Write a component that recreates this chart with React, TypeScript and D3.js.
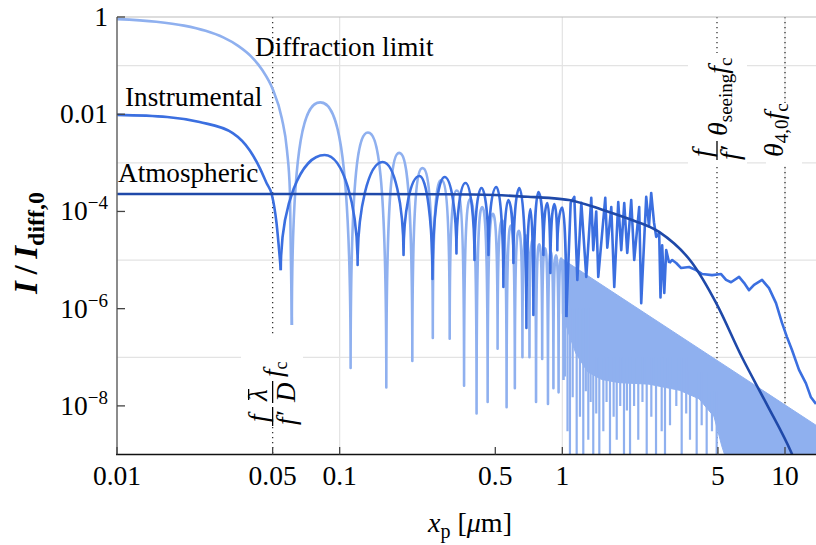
import React from "react";
import * as d3 from "d3";

// ---- chart data ----
const xTickValues = [0.01, 0.05, 0.1, 0.5, 1, 5, 10];
const xTickText = ["0.01", "0.05", "0.1", "0.5", "1", "5", "10"];
const yTickValues = [1, 1e-2, 1e-4, 1e-6, 1e-8];
const yTickBase = ["1", "0.01", "10", "10", "10"];
const yTickSup = ["", "", "\u22124", "\u22126", "\u22128"];
const xGridValues = [0.1, 1, 10];
const yGridValues = [1e-1, 1e-3, 1e-5, 1e-7];
const markerValues = [0.05, 4.95, 10];

// diffraction limit: central lobe, then alternating dips / peaks, then dense band
const diffCore: [number, number][] = [
  [0.01, 0.905], [0.015, 0.8], [0.02, 0.665], [0.025, 0.52], [0.03, 0.38], [0.035, 0.255],
  [0.04, 0.155], [0.045, 0.08], [0.05, 0.033], [0.055, 0.0082], [0.058, 0.0018],
  [0.0598, 2.5e-4], [0.061, 4.6e-7],
];
const diffDips: [number, number][] = [
  [0.061, 4.6e-7], [0.112, 6e-8], [0.162, 2.4e-8], [0.212, 8.4e-8], [0.262, 2.5e-7],
  [0.312, 2.4e-7], [0.362, 2.6e-8], [0.412, 7e-9], [0.462, 1.2e-8], [0.512, 1.5e-7],
  [0.562, 9.4e-9], [0.612, 2.3e-8], [0.662, 1e-7], [0.712, 1e-7], [0.762, 1.2e-8],
  [0.812, 9.2e-8], [0.862, 1.1e-8], [0.912, 2.3e-8], [0.962, 1.9e-8], [1.012, 3.4e-8],
];
const diffPeaks: [number, number][] = [
  [0.0818, 0.0175], [0.134, 0.0042], [0.185, 0.0016], [0.2355, 7.8e-4], [0.286, 4.4e-4],
  [0.336, 2.7e-4], [0.386, 1.8e-4], [0.4365, 1.23e-4], [0.487, 8.9e-5], [0.537, 6.6e-5],
  [0.587, 5.1e-5], [0.637, 4.0e-5], [0.687, 3.2e-5], [0.737, 2.6e-5], [0.787, 2.1e-5],
  [0.837, 1.75e-5], [0.887, 1.47e-5], [0.937, 1.25e-5], [0.987, 1.07e-5],
];
const diffBandTop: [number, number][] = [[1.0, 1.05e-5], [13.78, 4.0e-9]];
const diffBandBottom: [number, number][] = [
  [1.0, 8e-7], [1.07, 3e-7], [1.15, 1.2e-7], [1.3, 5e-8], [1.5, 3.5e-8], [1.8, 3e-8],
  [2.45, 2.8e-8], [3.35, 2.1e-8], [4.11, 1.4e-8], [4.8, 6e-9], [5.2, 1.5e-9], [5.35, 1e-9],
  [13.78, 1e-9],
];
// thin light spikes below the band: [x, from, to]
const diffSpikes: [number, number, number][] = [
  [1.028, 1e-6, 4e-8], [1.055, 1e-6, 3e-9], [1.082, 1e-6, 1e-9], [1.113, 1e-6, 1.5e-8],
  [1.16, 1e-6, 1e-9], [1.2, 1e-6, 6e-9], [1.242, 1e-6, 1e-9], [1.275, 1e-6, 2e-8],
  [1.308, 1e-6, 2e-9], [1.34, 1e-6, 1.2e-8], [1.377, 1e-6, 1e-9], [1.42, 1e-7, 7e-9],
  [1.466, 1e-7, 1e-9], [1.528, 1e-7, 3e-9], [1.58, 1e-7, 1.2e-8], [1.637, 1e-7, 1e-9],
  [1.7, 1e-7, 6e-9], [1.755, 1e-7, 2e-9], [1.82, 1e-7, 1e-8], [1.892, 1e-7, 1e-9],
  [1.95, 1e-7, 8e-9], [2.014, 1e-7, 1e-9], [2.1, 1e-7, 1e-8], [2.193, 1e-7, 2e-9],
  [2.29, 1e-7, 1.2e-8], [2.393, 1e-7, 1e-9], [2.51, 1e-7, 6e-9], [2.635, 1e-7, 1e-9],
  [2.794, 1e-7, 3e-9], [2.891, 1e-7, 1e-9], [3.045, 1e-7, 4e-9], [3.25, 1e-7, 1e-8],
  [3.436, 1e-7, 1e-9], [3.6, 1e-7, 7e-9], [3.744, 5e-8, 2e-9], [4.012, 5e-8, 1e-9],
  [4.225, 5e-8, 4e-9], [4.449, 5e-8, 1e-9], [4.7, 2e-8, 3e-9], [4.934, 2e-8, 1e-9],
];

// instrumental
const instCore: [number, number][] = [
  [0.01, 0.0097], [0.0168, 0.0088], [0.0235, 0.0069], [0.0331, 0.0041], [0.0395, 0.0018],
  [0.0438, 7.8e-4], [0.047, 3.8e-4], [0.0496, 2.2e-4], [0.052, 6e-5], [0.0544, 6.2e-6],
];
const instDips: [number, number][] = [
  [0.0544, 6.2e-6], [0.1204, 7.9e-6], [0.1936, 1.27e-5], [0.2612, 4.1e-6], [0.3346, 1.37e-5],
  [0.4031, 1.0e-5], [0.4658, 1.27e-5], [0.5437, 2.8e-6], [0.603, 8.7e-6], [0.6898, 4.0e-7],
  [0.7413, 7.4e-7], [0.8219, 1.27e-5], [0.8835, 5.4e-6], [0.9497, 1.6e-5], [1.042, 6.7e-7],
];
const instPeaks: [number, number][] = [
  [0.0856, 1.45e-3], [0.156, 1.04e-3], [0.2284, 5.35e-4], [0.2957, 5.1e-4], [0.3673, 3.84e-4],
  [0.4333, 3.03e-4], [0.5058, 3.18e-4], [0.5724, 1.72e-4], [0.6414, 3.03e-4], [0.7188, 1.12e-4],
  [0.7805, 2.5e-4], [0.8565, 1.49e-4], [0.9207, 1.42e-4], [1.0, 1.2e-4],
];
const instNoise: [number, number][] = [
  [1.042, 6.7e-7], [1.09, 1.5e-4], [1.132, 2.0e-4], [1.168, 3.9e-6], [1.217, 1.5e-4],
  [1.281, 4.5e-6], [1.349, 1.9e-4], [1.377, 1.6e-5], [1.42, 1.0e-4], [1.45, 4.5e-6],
  [1.559, 1.9e-4], [1.592, 1.8e-5], [1.659, 1.23e-4], [1.711, 2.8e-6], [1.783, 1.56e-4],
  [1.839, 1.6e-5], [1.897, 1.49e-4], [1.957, 1.4e-5], [2.039, 1.72e-4], [2.103, 1.0e-5],
  [2.214, 1.23e-4], [2.261, 1.3e-6], [2.381, 2.0e-4], [2.45, 5e-5], [2.507, 2.4e-4],
  [2.58, 6e-5], [2.64, 3.0e-5], [2.723, 3.6e-5], [2.76, 1.7e-6], [2.808, 2e-5],
  [2.87, 2.1e-6], [2.928, 1.6e-5], [3.019, 8.7e-6],
];
const instTail: [number, number][] = [
  [3.019, 8.7e-6], [3.115, 1.0e-5], [3.246, 8.7e-6], [3.417, 6.85e-6], [3.711, 7.2e-6],
  [3.99, 6.2e-6], [4.244, 5.15e-6], [4.705, 4.9e-6], [5.164, 5.15e-6], [5.437, 3.9e-6],
  [5.724, 3.5e-6], [6.219, 4.5e-6], [6.547, 3.4e-6], [6.896, 2.4e-6], [7.261, 3.1e-6],
  [7.886, 3.9e-6], [8.477, 2.65e-6], [9.114, 1.3e-6], [9.694, 5.1e-7], [10.21, 2.6e-7],
  [10.75, 1.41e-7], [11.56, 5.5e-8], [12.42, 2.9e-8], [13.08, 1.5e-8], [13.78, 1.1e-8],
];

// atmospheric
const atmo: [number, number][] = [
  [0.01, 2.28e-4], [0.1, 2.28e-4], [0.3, 2.25e-4], [0.5, 2.18e-4], [0.7, 2.0e-4],
  [0.87, 1.9e-4], [1.07, 1.72e-4], [1.5, 1.1e-4], [1.94, 7.3e-5], [2.72, 3.8e-5],
  [3.83, 8.7e-6], [4.91, 1.3e-6], [6.41, 1.0e-7], [8.22, 1.15e-8], [10.7, 1.07e-9],
  [12.0, 3e-10],
];

const cLight = "#8fb0ef";
const cInst = "#3b6fe0";
const cAtmo = "#1f49a9";
const font = "Liberation Serif";

const x = d3.scaleLog().domain([0.01, 13.78]).range([117, 816]);
const y = d3.scaleLog().domain([1e-9, 1]).range([454.5, 17]);

const smooth = d3.line<[number, number]>().x(d => x(d[0])).y(d => y(d[1])).curve(d3.curveMonotoneX);
const straight = d3.line<[number, number]>().x(d => x(d[0])).y(d => y(d[1]));

// lobes: vertical tangent at the dips, flat tangent at the peaks
function lobes(dips: [number, number][], peaks: [number, number][], kd: number, kp: number) {
  const pts: { px: number; py: number; dip: boolean }[] = [];
  dips.forEach((d, i) => {
    pts.push({ px: x(d[0]), py: y(d[1]), dip: true });
    if (i < peaks.length) pts.push({ px: x(peaks[i][0]), py: y(peaks[i][1]), dip: false });
  });
  const p = d3.path();
  p.moveTo(pts[0].px, pts[0].py);
  for (let i = 1; i < pts.length; i++) {
    const a = pts[i - 1];
    const b = pts[i];
    if (a.dip) p.bezierCurveTo(a.px, a.py + kd * (b.py - a.py), b.px - kp * (b.px - a.px), b.py, b.px, b.py);
    else p.bezierCurveTo(a.px + kp * (b.px - a.px), a.py, b.px, b.py + kd * (a.py - b.py), b.px, b.py);
  }
  return p.toString();
}

export default function App() {
  const bandPath = straight(diffBandTop.concat(diffBandBottom.slice().reverse())) + "Z";
  const sw = 2.6;
  return (
    <svg width={816} height={545} style={{ position: "absolute", left: 0, top: 0, background: "#fff", fontFamily: font }}>
      <defs>
        <clipPath id="plotClip">
          <rect x={117} y={17} width={699} height={437.5} />
        </clipPath>
      </defs>

      {/* grid */}
      {xGridValues.map(v => (
        <line key={"gx" + v} x1={x(v)} x2={x(v)} y1={17} y2={454.5} stroke="#e3e3e3" strokeWidth={1.2} />
      ))}
      {yGridValues.map(v => (
        <line key={"gy" + v} x1={117} x2={816} y1={y(v)} y2={y(v)} stroke="#e3e3e3" strokeWidth={1.2} />
      ))}
      {markerValues.map(v => (
        <line key={"m" + v} x1={x(v)} x2={x(v)} y1={17} y2={454.5} stroke="#333" strokeWidth={1.3} strokeDasharray="1.3,3.7" />
      ))}

      <g clipPath="url(#plotClip)" fill="none" strokeLinejoin="round">
        <path d={bandPath} fill={cLight} stroke={cLight} strokeWidth={1} />
        {diffSpikes.map(s => (
          <line key={"s" + s[0]} x1={x(s[0])} x2={x(s[0])} y1={y(s[1])} y2={y(s[2])} stroke={cLight} strokeWidth={2.2} />
        ))}
        <path d={smooth(diffCore) || ""} stroke={cLight} strokeWidth={sw} />
        <path d={lobes(diffDips, diffPeaks, 0.88, 0.5)} stroke={cLight} strokeWidth={sw} />

        <path d={smooth(instCore) || ""} stroke={cInst} strokeWidth={sw} />
        <path d={lobes(instDips, instPeaks, 0.55, 0.55)} stroke={cInst} strokeWidth={sw} />
        <path d={straight(instNoise) || ""} stroke={cInst} strokeWidth={sw} />
        <path d={straight(instTail) || ""} stroke={cInst} strokeWidth={sw} />

        <path d={smooth(atmo) || ""} stroke={cAtmo} strokeWidth={sw} />
      </g>

      {/* frame */}
      <line x1={117} x2={816} y1={17} y2={17} stroke="#bbb" strokeWidth={1} />
      <line x1={117} x2={117} y1={17} y2={455} stroke="#666" strokeWidth={1.5} />
      <line x1={116} x2={816} y1={454.5} y2={454.5} stroke="#111" strokeWidth={1.5} />
      {yTickValues.map((v, i) => (
        <g key={"yt" + v}>
          <line x1={117} x2={125} y1={y(v)} y2={y(v)} stroke="#444" strokeWidth={1.3} />
          <text x={108} y={y(v) + 9} fontSize={27.5} textAnchor="end">
            {yTickBase[i]}
            {yTickSup[i] && <tspan fontSize={19} dy={-11}>{yTickSup[i]}</tspan>}
          </text>
        </g>
      ))}
      {xTickValues.map((v, i) => (
        <g key={"xt" + v}>
          <line x1={x(v)} x2={x(v)} y1={454.5} y2={447} stroke="#444" strokeWidth={1.3} />
          <text x={x(v)} y={485} fontSize={27.5} textAnchor="middle">{xTickText[i]}</text>
        </g>
      ))}

      {/* axis titles */}
      <text x={470} y={532} fontSize={28} textAnchor="middle">
        <tspan fontStyle="italic">x</tspan>
        <tspan fontSize={20} dy={6}>p</tspan>
        <tspan dy={-6}> [</tspan>
        <tspan fontStyle="italic">{"\u03bc"}</tspan>
        <tspan>m]</tspan>
      </text>
      <text transform="translate(37,243) rotate(-90)" fontSize={33} textAnchor="middle" fontWeight="bold">
        <tspan fontStyle="italic">I</tspan>
        <tspan>{"\u2009/\u2009"}</tspan>
        <tspan fontStyle="italic">I</tspan>
        <tspan fontSize={24} dy={7}>diff,0</tspan>
      </text>

      {/* curve labels */}
      <text x={255} y={56} fontSize={27.2}>Diffraction limit</text>
      <text x={125} y={106} fontSize={27.2}>Instrumental</text>
      <text x={118} y={182} fontSize={27.2}>Atmospheric</text>

      {/* marker labels */}
      <rect x={241} y={337} width={62} height={90} fill="#fff" />
      <g transform={`translate(${x(0.05)},426) rotate(-90)`} fontSize={27} fontStyle="italic">
        <text x={4} y={-6}>f</text>
        <line x1={0} x2={19} y1={0} y2={0} stroke="#000" strokeWidth={1.3} />
        <text x={1} y={22}>{"f\u2032"}</text>
        <text x={25} y={-6}>{"\u03bb"}</text>
        <line x1={26} x2={37} y1={-24} y2={-24} stroke="#000" strokeWidth={1.3} />
        <line x1={23} x2={45} y1={0} y2={0} stroke="#000" strokeWidth={1.3} />
        <text x={24} y={22}>D</text>
        <text x={49} y={9}>f<tspan fontSize={18} fontStyle="normal" dy={5}>c</tspan></text>
      </g>

      <rect x={688} y={53} width={59} height={113} fill="#fff" />
      <g transform={`translate(${x(4.95)},160) rotate(-90)`} fontSize={28} fontStyle="italic">
        <text x={3} y={-6}>f</text>
        <line x1={0} x2={19} y1={0} y2={0} stroke="#000" strokeWidth={1.3} />
        <text x={0} y={22}>{"f\u2032"}</text>
        <text x={24} y={10}>{"\u03b8"}<tspan fontSize={19} fontStyle="normal" dy={5}>seeing</tspan><tspan dy={-5}>f</tspan><tspan fontSize={19} fontStyle="normal" dy={5}>c</tspan></text>
      </g>

      <rect x={766} y={103} width={36} height={63} fill="#fff" />
      <g transform={`translate(${x(10)},160) rotate(-90)`} fontSize={28} fontStyle="italic">
        <text x={3} y={-2}>{"\u03b8"}<tspan fontSize={19} fontStyle="normal" dy={5}>4,0</tspan><tspan dy={-5}>f</tspan><tspan fontSize={19} fontStyle="normal" dy={5}>c</tspan></text>
      </g>
    </svg>
  );
}
